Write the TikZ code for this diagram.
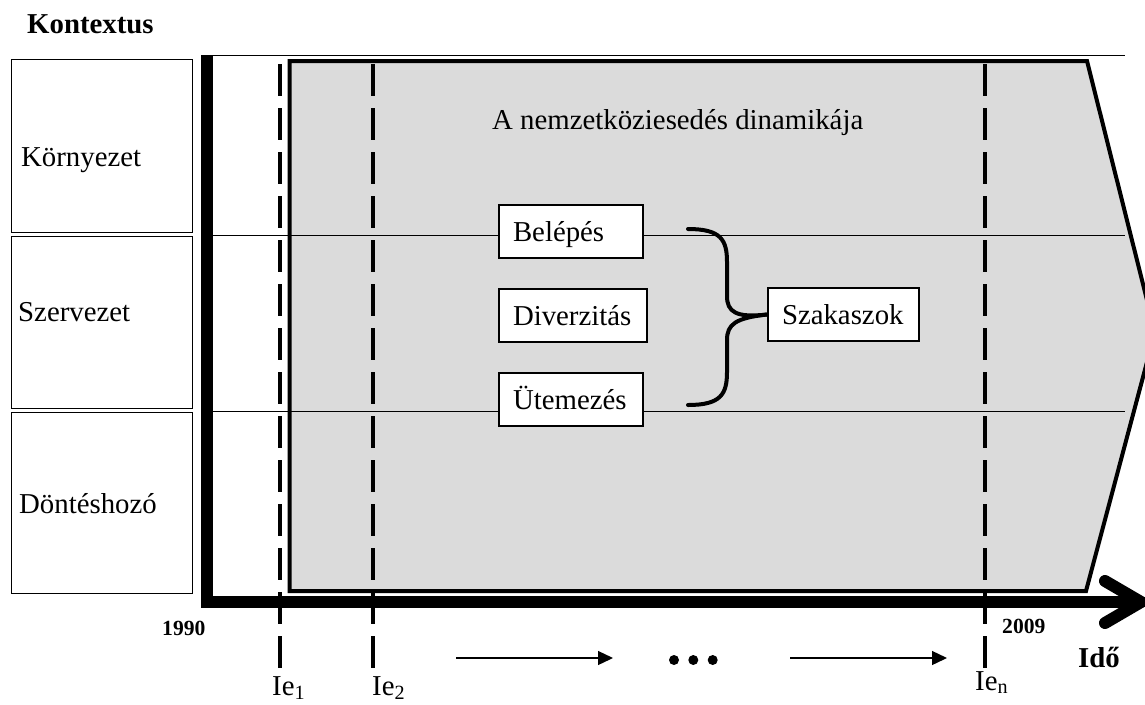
\documentclass[tikz,border=0pt]{standalone}
\usepackage{fontspec}
\setmainfont{Liberation Serif}
\usetikzlibrary{arrows.meta}
\definecolor{shade}{gray}{0.86}
\begin{document}
\begin{tikzpicture}[x=1pt,y=-1pt,
  txt/.style={font=\fontsize{28.8}{34}\selectfont, inner sep=0pt, anchor=base west},
  boldtxt/.style={font=\bfseries\fontsize{28.8}{34}\selectfont, inner sep=0pt, anchor=base west},
  yr/.style={font=\bfseries\fontsize{21.6}{26}\selectfont, inner sep=0pt, anchor=base west},
  ctx/.style={draw, line width=1.2pt, minimum width=181pt, inner sep=0pt, anchor=north west},
  stagebox/.style={draw, fill=white, line width=2pt, minimum height=53pt, text height=19pt,
     text depth=0pt, inner xsep=14pt, inner ysep=0pt, align=left,
     font=\fontsize{28.8}{34}\selectfont, anchor=north west},
  ie/.style={line width=4pt, dash pattern=on 32pt off 12pt},
  thinline/.style={line width=1pt},
  axis/.style={line width=12pt},
  smallarrow/.style={line width=1.3pt, -{Triangle[length=15pt,width=14pt]}},
  bracepath/.style={line width=4pt, line cap=round}
]
\useasboundingbox (0,0) rectangle (1145,704);

% grey time-arrow field
\draw[fill=shade, line width=4pt, line join=miter] (289.5,61) -- (1087,61) -- (1155,332) -- (1086,591) -- (289.5,591) -- cycle;

% thin horizontal lines
\draw[thinline] (212,55.5) -- (1125,55.5);
\draw[thinline] (212,235) -- (1125,235);
\draw[thinline] (212,411) -- (1125,411);

% dashed milestones
\coordinate (ie1t) at (280,64);  \coordinate (ie1b) at (280,668);
\coordinate (ie2t) at (373,64);  \coordinate (ie2b) at (373,668);
\coordinate (ient) at (985,64);  \coordinate (ienb) at (985,668);
\draw[ie] (ie1t) -- (ie1b);
\draw[ie] (ie2t) -- (ie2b);
\draw[ie] (ient) -- (ienb);

% axes
\coordinate (ytop) at (206.5,55);
\coordinate (orig) at (206.5,602);
\coordinate (xend) at (1135,602);
\draw[axis, line join=miter] (ytop) -- (orig) -- (xend);
\coordinate (hu) at (1105,581);
\coordinate (htip) at (1141,602);
\coordinate (hl) at (1105,623);
\draw[axis, line cap=round, line join=miter] (hu) -- (htip) -- (hl);

% context boxes
\node[ctx, minimum height=173pt] (ctx1) at (11,59) {};
\node[ctx, minimum height=172pt] (ctx2) at (11,236) {};
\node[ctx, minimum height=181pt] (ctx3) at (11,412) {};
\node[txt] (korny) at (21,166) {Környezet};
\node[txt] (szerv) at (18,321) {Szervezet};
\node[txt] (dont) at (19,513) {Döntéshozó};
\node[boldtxt] (kontextus) at (27,33) {Kontextus};

% title
\node[txt] (title) at (492,129) {A nemzetköziesedés dinamikája};

% stage boxes
\node[stagebox, text width=116pt] (belepes) at (498,204) {Belépés};
\node[stagebox, text width=120pt] (diverz) at (498,288) {Diverzitás};
\node[stagebox, text width=116pt] (utem) at (498,372) {Ütemezés};
\node[stagebox, text width=123pt] (szak) at (767,287) {Szakaszok};

% brace
\coordinate (bt) at (688,229);
\coordinate (bb) at (688,405);
\draw[bracepath] (bt) .. controls (721,229) and (727,240) .. (727,262) -- (727,296)
   .. controls (727,312) and (736,318) .. (szak.west);
\draw[bracepath] (bb) .. controls (721,405) and (727,394) .. (727,372) -- (727,340)
   .. controls (727,324) and (736,318) .. (szak.west);

% years and labels
\node[yr] (y1990) at (162,635) {1990};
\node[yr] (y2009) at (1002,633) {2009};
\node[boldtxt] (ido) at (1078,667) {Idő};
\node[txt] (ie1) at (272,695) {Ie\textsubscript{1}};
\node[txt] (ie2) at (372,695) {Ie\textsubscript{2}};
\node[txt] (ien) at (975,690) {Ie\textsubscript{n}};

% bottom arrows and dots
\coordinate (a1s) at (456,658); \coordinate (a1e) at (613,658);
\coordinate (a2s) at (790,658); \coordinate (a2e) at (947,658);
\draw[smallarrow] (a1s) -- (a1e);
\draw[smallarrow] (a2s) -- (a2e);
\fill (674,660) circle (5pt);
\fill (693.3,660) circle (5pt);
\fill (712.7,660) circle (5pt);
\end{tikzpicture}
\end{document}
